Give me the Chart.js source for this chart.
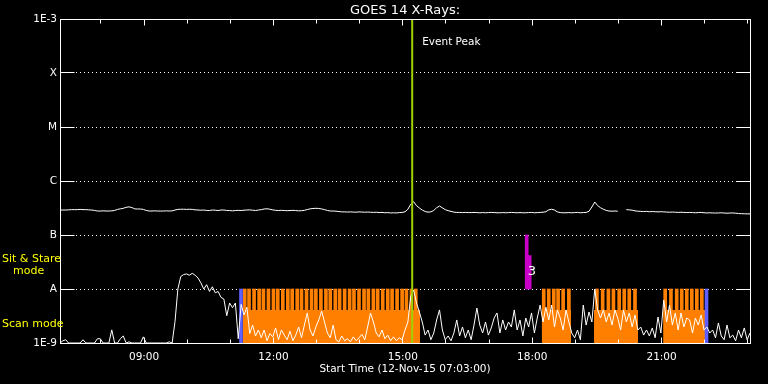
<!DOCTYPE html>
<html>
<head>
<meta charset="utf-8">
<title>GOES 14 X-Rays</title>
<script src="https://cdn.jsdelivr.net/npm/chart.js@4.4.1/dist/chart.umd.min.js"></script>
<style>
  html, body { margin: 0; padding: 0; background: #000; }
  canvas { display: block; }
</style>
</head>
<body>
<canvas id="goes" width="768" height="384"></canvas>
<script>
// time axis is in minutes of the day, 07:03 -> 23:03
const START_MIN = 423;
const END_MIN = 1383;
const STEP_MIN = 4;

const HOUR_MARKS = [480, 540, 600, 660, 720, 780, 840, 900, 960, 1020, 1080, 1140, 1200, 1260, 1320, 1380];
const LABEL_TIMES = [540, 720, 900, 1080, 1260];
const X_LABELS = ['09:00', '12:00', '15:00', '18:00', '21:00'];

const Y_TICKS = [1e-9, 1e-8, 1e-7, 1e-6, 1e-5, 1e-4, 1e-3];
const Y_LABELS = ['1E-9', 'A', 'B', 'C', 'M', 'X', '1E-3'];

// long channel, units of 1e-9 W/m2, one value every 4 minutes (null = data gap)
const UPPER_NW = [
  290,290,290,292,295,295,295,298,295,295,
  292,290,285,278,278,280,278,278,280,285,
  298,305,312,325,332,322,305,303,303,298,
  285,278,278,280,278,278,278,280,278,280,
  290,298,300,300,298,300,298,292,290,288,
  290,285,284,290,288,284,290,290,285,284,
  280,284,286,284,288,290,292,288,284,290,
  295,303,306,300,292,286,284,286,284,282,
  284,286,284,280,282,286,296,305,310,312,
  310,304,295,285,278,278,276,272,268,268,
  266,268,266,264,268,266,264,266,264,262,
  264,260,262,258,260,256,258,256,260,262,
  268,300,372,414,350,316,290,272,265,268,
  285,320,344,318,295,282,274,265,262,262,
  260,262,260,260,262,260,258,260,258,260,
  262,260,258,258,260,258,260,262,260,258,
  260,258,258,260,262,258,260,262,264,270,
  292,300,290,268,260,258,258,260,258,260,
  262,258,260,262,275,330,408,350,320,300,
  285,278,276,278,276,null,null,295,292,288,
  280,276,274,272,274,270,272,270,268,270,
  268,266,264,266,264,262,264,262,260,262,
  260,258,260,262,258,256,258,256,255,256,
  258,255,253,255,256,253,250,248,247,246,246
];

// short channel, same sampling
const LOWER_NW = [
  1,1.1,1.15,1,1,1,1,1,1.15,1,
  1,1,1,1.2,1.2,1,1,1,1.75,1,
  1,1.2,1.35,1,1.05,1,1,1,1,1.3,
  1,1,1,1,1,1,1,1,1.05,1,
  2.5,10,17,18.5,19,18,19.5,18,16,13,
  10,12,9,11,8.5,9,7,6.5,3.2,5.5,
  4.5,5.5,1.2,5.2,3.3,4.6,1.5,2.15,1.35,1.74,
  1.25,1.74,1.1,1.5,1.3,1.9,1.15,1.74,1.4,1.15,
  1.65,1.1,1.4,1.98,1.25,2.15,3.6,1.74,1.35,1.98,
  2.67,3.9,2.45,1.53,1.25,2.15,1.15,1.05,1.35,1.1,
  1.2,1.05,1.3,1.1,1.25,1.45,1.15,1.98,3.6,2.45,
  1.53,1.3,1.74,1.2,1.4,1.1,1.3,1.1,1.25,1.15,
  1.74,2.45,7.4,9.6,5.5,3.75,2.45,1.4,1.74,1.15,
  1.53,2.67,4.1,1.74,1.15,1.35,1.1,1.53,2.67,1.35,
  1.98,1.25,1.74,1.15,2.15,4.45,2.15,1.53,2.45,1.4,
  1.9,2.9,3.6,1.53,2.67,1.74,2.45,1.98,4.1,1.74,
  2.67,1.35,2.9,1.98,3.6,1.53,2.9,5.05,2.45,4.6,
  2.67,5.05,1.98,4.1,2.9,1.74,4.1,2.45,1.53,1.25,
  1.74,1.15,5.05,2.15,3.75,2.45,10,4.1,2.9,4.1,
  2.45,3.6,2.15,4.1,2.9,1.74,4.1,2.45,3.6,1.98,
  3.3,1.74,1.98,1.4,1.74,1.35,1.9,1.25,3.03,1.53,
  6.26,2.45,5.05,2.15,3.6,1.74,3.6,1.98,2.9,2.67,
  1.53,2.9,2.15,3.3,1.74,1.98,1.53,1.74,1.25,2.35,
  1.35,1.15,2.15,1.25,1.4,1.1,1.74,1.25,1.9,1.15,1.53
];

const EVENT_PEAK = 913;

// instrument mode strip (levels in decades above the bottom of the plot)
const SCAN_SEGMENTS = [[677.6, 924], [1093.6, 1134], [1166, 1227.2], [1262.4, 1320.4]];
const SCAN_BASE = 0.61;
const SCAN_STRIPES = [
  680, 686, 693, 700, 706, 713, 720, 726, 733, 740, 746, 753, 759, 766, 773, 779, 786, 793, 799,
  806, 812, 819, 826, 832, 839, 846, 852, 859, 865, 872, 879, 885, 892, 899, 905, 912, 918,
  1096, 1103, 1110, 1116, 1123, 1131,
  1170, 1178, 1186, 1193, 1201, 1208, 1215, 1223,
  1265, 1273, 1281, 1288, 1295, 1302, 1309, 1316
];
const BLUE_MARKS = [674.8, 1322.5];
const STARE_TIMES = [1072.3, 1076.5];
const STARE_TOPS = [2, 1.62];

const ORANGE = '#ff8000';
const toFlux = arr => arr.map((v, i) => ({ x: START_MIN + i * STEP_MIN, y: v === null ? null : v * 1e-9 }));

const datasets = [
  {
    label: 'Event Peak', type: 'line',
    data: [{ x: EVENT_PEAK, y: 1e-9 }, { x: EVENT_PEAK, y: 1e-3 }],
    borderColor: '#a0d000', borderWidth: 2, pointRadius: 0, order: 0
  },
  {
    label: 'short', type: 'line', data: toFlux(LOWER_NW),
    borderColor: '#ffffff', borderWidth: 1, pointRadius: 0, order: 1
  },
  {
    label: 'long', type: 'line', data: toFlux(UPPER_NW), spanGaps: false,
    borderColor: '#ffffff', borderWidth: 1, pointRadius: 0, order: 1
  },
  {
    label: 'stare', type: 'bar', yAxisID: 'y2', grouped: false,
    data: STARE_TIMES.map((t, i) => ({ x: t, y: [1, STARE_TOPS[i]] })),
    backgroundColor: '#c800c8', barThickness: 3, order: 2
  },
  {
    label: 'blue', type: 'bar', yAxisID: 'y2', grouped: false,
    data: BLUE_MARKS.map(t => ({ x: t, y: [0, 1] })),
    backgroundColor: '#6060ff', barThickness: 3, order: 2
  },
  {
    label: 'scan', type: 'bar', yAxisID: 'y2', grouped: false,
    data: SCAN_STRIPES.map(t => ({ x: t, y: [0, 1] })),
    backgroundColor: ORANGE, barThickness: 3, order: 3
  }
];

SCAN_SEGMENTS.forEach(([s, e]) => {
  datasets.push({
    label: 'scan base', type: 'line', yAxisID: 'y2',
    data: [{ x: s, y: SCAN_BASE }, { x: e, y: SCAN_BASE }],
    borderWidth: 0, pointRadius: 0, fill: 'origin',
    backgroundColor: ORANGE, order: 4
  });
});

// frame, inward ticks and the free text
const framePlugin = {
  id: 'goesFrame',
  afterDatasetsDraw(chart) {
    const { ctx, chartArea: a, scales: { x, y } } = chart;
    const al = p => Math.round(p - 0.5) + 0.5;
    const L = al(a.left), R = al(a.right), T = al(a.top), B = al(a.bottom);
    ctx.save();
    ctx.strokeStyle = '#fff';
    ctx.lineWidth = 1;
    ctx.strokeRect(L, T, R - L, B - T);
    ctx.beginPath();
    Y_TICKS.forEach(v => {
      const py = al(y.getPixelForValue(v));
      ctx.moveTo(L, py); ctx.lineTo(L + 14, py);
      ctx.moveTo(R - 14, py); ctx.lineTo(R, py);
    });
    HOUR_MARKS.forEach(v => {
      const px = al(x.getPixelForValue(v));
      const len = LABEL_TIMES.includes(v) ? 6 : 4;
      ctx.moveTo(px, T); ctx.lineTo(px, T + len);
      ctx.moveTo(px, B); ctx.lineTo(px, B - len);
    });
    ctx.stroke();

    ctx.font = '10.5px "DejaVu Sans"';
    ctx.fillStyle = '#fff';
    ctx.textBaseline = 'middle';
    ctx.textAlign = 'left';
    ctx.fillText('Event Peak', x.getPixelForValue(EVENT_PEAK) + 10, 42);
    ctx.font = '13px "DejaVu Sans"';
    ctx.fillText('3', x.getPixelForValue(STARE_TIMES[0]) + 1, 272);

    ctx.font = '11px "DejaVu Sans"';
    ctx.fillStyle = '#ffff00';
    ctx.fillText('Sit & Stare', 2, 259);
    ctx.fillText('mode', 13, 271);
    ctx.fillText('Scan mode', 2, 324);
    ctx.restore();
  }
};

new Chart(document.getElementById('goes'), {
  type: 'line',
  data: { datasets: datasets },
  options: {
    responsive: false,
    animation: false,
    devicePixelRatio: 1,
    layout: { padding: { left: 0, right: 18, top: 0, bottom: 0 } },
    font: { family: '"DejaVu Sans"' },
    plugins: {
      legend: { display: false },
      tooltip: { enabled: false },
      title: {
        display: true, fullSize: false, text: 'GOES 14 X-Rays:', color: '#fff',
        font: { family: '"DejaVu Sans"', size: 13, weight: 'normal', lineHeight: 1 },
        padding: { top: 4, bottom: 2 }
      }
    },
    scales: {
      x: {
        type: 'linear', min: START_MIN, max: END_MIN, offset: false,
        afterBuildTicks: s => { s.ticks = LABEL_TIMES.map(v => ({ value: v })); },
        afterFit: s => { s.height = 41; },
        ticks: {
          color: '#fff', font: { family: '"DejaVu Sans"', size: 10.5 }, padding: 0,
          autoSkip: false, maxRotation: 0, callback: (v, i) => X_LABELS[i]
        },
        grid: { display: false },
        border: { display: false },
        title: {
          display: true, text: 'Start Time (12-Nov-15 07:03:00)', color: '#fff',
          font: { family: '"DejaVu Sans"', size: 10.5 }, padding: { top: 0, bottom: 8 }
        }
      },
      y: {
        type: 'logarithmic', min: 1e-9, max: 1e-3,
        afterBuildTicks: s => { s.ticks = Y_TICKS.map(v => ({ value: v })); },
        afterFit: s => { s.width = 60; },
        ticks: {
          color: '#fff', font: { family: '"DejaVu Sans"', size: 10.5 }, padding: 3,
          autoSkip: false, callback: (v, i) => Y_LABELS[i]
        },
        grid: {
          drawTicks: false, lineWidth: 1,
          color: c => (c.index > 0 && c.index < Y_TICKS.length - 1) ? '#ffffff' : 'rgba(0,0,0,0)'
        },
        border: { display: false, dash: [1, 3] }
      },
      y2: { type: 'linear', min: 0, max: 6, display: false }
    }
  },
  plugins: [framePlugin]
});
</script>
</body>
</html>
